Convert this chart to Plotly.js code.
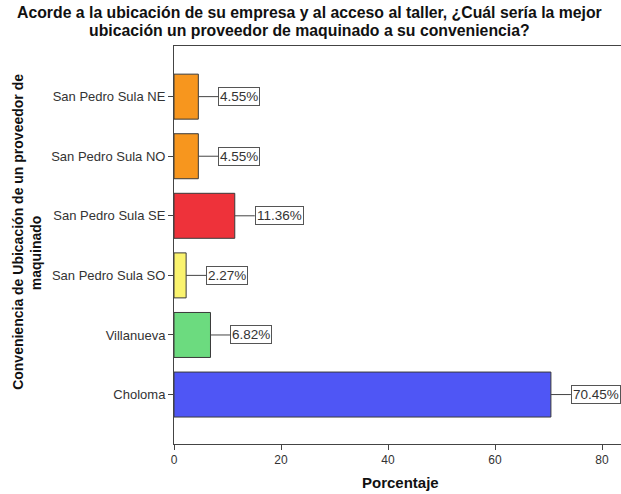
<!DOCTYPE html>
<html>
<head>
<meta charset="utf-8">
<script src="https://cdn.plot.ly/plotly-3.0.1.min.js"></script>
<style>html,body{margin:0;padding:0;background:#fff;}#chart{width:621px;height:494px;}</style>
</head>
<body>
<div id="chart"></div>
<script>
// Data (top to bottom as shown)
var categories = ["San Pedro Sula NE", "San Pedro Sula NO", "San Pedro Sula SE", "San Pedro Sula SO", "Villanueva", "Choloma"];
var percentages = [4.55, 4.55, 11.36, 2.27, 6.82, 70.45];
var labels = ["4.55%", "4.55%", "11.36%", "2.27%", "6.82%", "70.45%"];
var barColors = ["#F7961E", "#F7961E", "#EE323A", "#FAF36E", "#6CDB7F", "#4F56F5"];
var xTicks = [0, 20, 40, 60, 80];
var titleLines = ["Acorde a la ubicación de su empresa y al acceso al taller, ¿Cuál sería la mejor",
                  "ubicación un proveedor de maquinado a su conveniencia?"];
var yTitleLines = ["Conveniencia de Ubicación de un proveedor de", "maquinado"];
var xTitle = "Porcentaje";

var FONT = "Liberation Sans, Arial, sans-serif";

var trace = {
  type: "bar",
  orientation: "h",
  x: percentages,
  y: categories,
  width: 0.755,
  marker: {color: barColors, line: {color: "#3a3a3a", width: 1}},
  hoverinfo: "none"
};

var annotations = categories.map(function (c, i) {
  return {
    x: percentages[i], y: c, xref: "x", yref: "y",
    text: labels[i],
    showarrow: true, arrowhead: 0, arrowwidth: 1, arrowcolor: "#444",
    ax: 20, ay: 0, xanchor: "left",
    font: {family: FONT, size: 13.5, color: "#333"},
    bgcolor: "#fff", bordercolor: "#555", borderwidth: 1, borderpad: 1
  };
});

// Title lines
annotations.push({xref: "paper", yref: "paper", x: 0.304, y: 1.083, xanchor: "center", yanchor: "middle",
  showarrow: false, text: titleLines[0], font: {family: FONT, size: 15.8, color: "#111", weight: "bold"}});
annotations.push({xref: "paper", yref: "paper", x: 0.304, y: 1.0377, xanchor: "center", yanchor: "middle",
  showarrow: false, text: titleLines[1], font: {family: FONT, size: 15.8, color: "#111", weight: "bold"}});
// Y-axis title lines
annotations.push({xref: "paper", yref: "paper", x: -0.349, y: 0.533, xanchor: "center", yanchor: "middle",
  textangle: -90, showarrow: false, text: yTitleLines[0], font: {family: FONT, size: 14, color: "#111", weight: "bold"}});
annotations.push({xref: "paper", yref: "paper", x: -0.308, y: 0.48, xanchor: "center", yanchor: "middle",
  textangle: -90, showarrow: false, text: yTitleLines[1], font: {family: FONT, size: 14, color: "#111", weight: "bold"}});
// X-axis title
annotations.push({xref: "paper", yref: "paper", x: 0.506, y: -0.096, xanchor: "center", yanchor: "middle",
  showarrow: false, text: xTitle, font: {family: FONT, size: 15, color: "#111", weight: "bold"}});

var layout = {
  width: 621, height: 494,
  margin: {l: 174, r: 0, t: 46, b: 50},
  paper_bgcolor: "#fff", plot_bgcolor: "#fff",
  showlegend: false,
  font: {family: FONT, size: 12, color: "#333"},
  xaxis: {
    range: [0, 83.55],
    tickvals: xTicks,
    ticks: "outside", ticklen: 5, tickcolor: "#444",
    showline: true, linecolor: "#444", linewidth: 1, mirror: true,
    showgrid: false, zeroline: false,
    tickfont: {size: 12, color: "#333"}
  },
  yaxis: {
    type: "category",
    range: [5.83, -0.85],
    ticks: "outside", ticklen: 5, tickcolor: "#444",
    showline: true, linecolor: "#444", linewidth: 1,
    showgrid: false, zeroline: false,
    tickfont: {size: 13, color: "#333"}
  },
  annotations: annotations
};

Plotly.newPlot("chart", [trace], layout, {displayModeBar: false, staticPlot: true});
</script>
</body>
</html>
